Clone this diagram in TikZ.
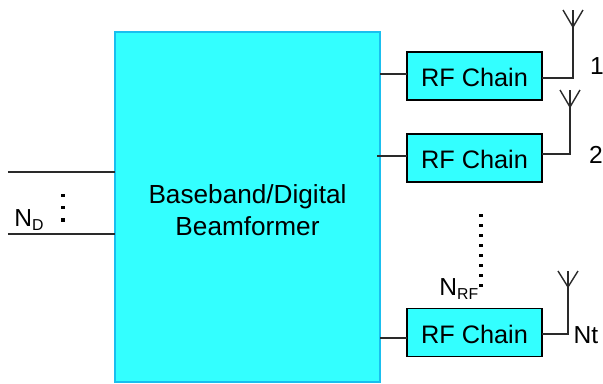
\documentclass[tikz,border=0pt]{standalone}
\usepackage{fontspec}
\setmainfont{Liberation Sans}
\usepackage{xcolor}
\definecolor{boxcyan}{HTML}{33FFFF}
\definecolor{boxedge}{HTML}{19BFEF}
\definecolor{wirecol}{HTML}{2A2A2A}
\newcommand{\lowsub}[1]{\raisebox{-0.35ex}{\fontsize{9}{9}\selectfont #1}}
\tikzset{
    basebox/.style={draw=boxedge, fill=boxcyan, line width=0.7pt, minimum width=5.3cm, minimum height=7cm, align=center, font=\fontsize{14.9}{18.2}\selectfont, inner sep=0pt, outer sep=0pt},
    rfbox/.style={draw=black, fill=boxcyan, line width=0.8pt, minimum width=2.7cm, minimum height=0.96cm, font=\fontsize{14.4}{16}\selectfont, text height=12.2pt, text depth=0pt, inner sep=0pt, outer sep=0pt},
    wire/.style={draw=wirecol, line width=0.8pt},
    label/.style={font=\fontsize{14}{16}\selectfont, inner sep=0pt},
    dotcol/.style={draw=black, line width=1.9pt, dash pattern=on 1.9pt off 3.8pt}
}
\begin{document}
\begin{tikzpicture}[x=0.02cm, y=-0.02cm]
    \useasboundingbox (0,0) rectangle (603,383);

    \node[basebox] (bb) at (247.5,207) {\rule{0pt}{14.7pt}Baseband/Digital\\Beamformer};
    \node[rfbox] (rf1) at (474.5,76) {RF Chain};
    \node[rfbox] (rf2) at (474.5,158) {RF Chain};
    \node[rfbox] (rf3) at (474.5,332.5) {RF Chain};

    \node[label] (n1) at (597,66) {1};
    \node[label] (n2) at (596,155) {2};
    \node[label] (nt) at (586,335) {Nt};
    \node[label, anchor=west] (nrf) at (439,289) {N\lowsub{RF}};
    \node[label, anchor=west] (nd) at (14,220) {N\lowsub{D}};

    \coordinate (s1) at (380,74);
    \coordinate (s2) at (377,156);
    \coordinate (s3) at (380,338);
    \draw[wire] (s1) -- (s1 -| rf1.west);
    \draw[wire] (s2) -- (s2 -| rf2.west);
    \draw[wire] (s3) -- (s3 -| rf3.west);

    \coordinate (o1) at (542,78);
    \coordinate (f1) at (573,27);
    \coordinate (o2) at (542,154);
    \coordinate (f2) at (570,107);
    \coordinate (o3) at (542,334);
    \coordinate (f3) at (568,287);

    \draw[wire] (o1) -| (f1);
    \draw[wire] (o2) -| (f2);
    \draw[wire] (o3) -| (f3);

    \draw[wire] (563,10) -- (f1) -- (583,10);
    \draw[wire] (f1) -- +(0,-17);
    \draw[wire] (560,90) -- (f2) -- (580,90);
    \draw[wire] (f2) -- +(0,-17);
    \draw[wire] (558,271) -- (f3) -- (578,271);
    \draw[wire] (f3) -- +(0,-16);

    \coordinate (l1) at (8,172);
    \coordinate (l2) at (8,234);
    \draw[wire] (l1) -- (l1 -| bb.west);
    \draw[wire] (l2) -- (l2 -| bb.west);

    \coordinate (d1) at (481,214);
    \coordinate (d2) at (481,292);
    \draw[dotcol] (d1) -- (d2);
    \coordinate (d3) at (63,194);
    \coordinate (d4) at (63,222);
    \draw[dotcol, dash pattern=on 1.9pt off 5pt] (d3) -- (d4);
\end{tikzpicture}
\end{document}
